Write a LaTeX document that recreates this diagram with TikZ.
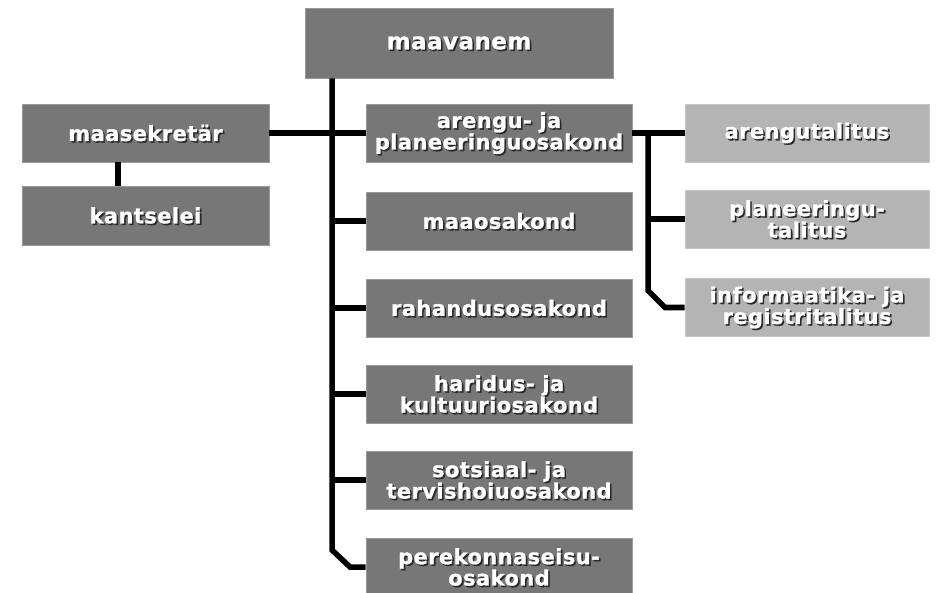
\documentclass[tikz,border=0pt]{standalone}
\usepackage{fontspec}
\setmainfont{DejaVu Sans}[LetterSpace=2, BoldFeatures={FakeBold=1.2}]
\definecolor{darkbox}{HTML}{777777}
\definecolor{lightbox}{HTML}{B4B4B4}
\definecolor{shadowc}{HTML}{2A2A2A}
\tikzset{
  dbox/.style={rectangle, fill=darkbox, draw=darkbox!75!white, line width=0.8pt, inner sep=0pt, minimum height=58pt},
  lbox/.style={rectangle, fill=lightbox, draw=lightbox!75!white, line width=0.8pt, inner sep=0pt, minimum height=58pt},
  txt/.style={align=center, text=white, inner sep=0pt, font=\bfseries\fontsize{21}{18}\selectfont},
  bigtxt/.style={font=\bfseries\fontsize{23}{20}\selectfont},
  shd/.style={txt, text=shadowc},
  conn/.style={draw=black, line width=5.5pt, line join=miter}
}
\newcommand\boxlabel[3][]{%
  \node[shd,#1] (#2-s) at ([xshift=1.6pt,yshift=-1.6pt]#2.center) {#3};
  \node[txt,#1] (#2-t) at (#2.center) {#3};}
\begin{document}
\begin{tikzpicture}[x=1pt,y=-1pt]
\useasboundingbox (0,0) rectangle (936,593);
\fill[white] (0,0) rectangle (936,593);
% boxes
\node[dbox, minimum width=308pt, minimum height=70pt] (top) at (459,43) {};
\node[dbox, minimum width=247pt] (msek) at (145.5,133) {};
\node[dbox, minimum width=247pt, minimum height=59pt] (kants) at (145.5,215.5) {};
\node[dbox, minimum width=266pt] (dep1) at (499,133) {};
\node[dbox, minimum width=266pt] (dep2) at (499,221) {};
\node[dbox, minimum width=266pt] (dep3) at (499,308) {};
\node[dbox, minimum width=266pt] (dep4) at (499,394) {};
\node[dbox, minimum width=266pt] (dep5) at (499,480) {};
\node[dbox, minimum width=266pt] (dep6) at (499,567) {};
\node[lbox, minimum width=244pt] (r1) at (807,133) {};
\node[lbox, minimum width=244pt] (r2) at (807,219) {};
\node[lbox, minimum width=244pt] (r3) at (807,307.5) {};
% helper coordinates
\coordinate (tx) at (332,0);
\coordinate (kx) at (118,0);
\coordinate (rx) at (648,0);
% connectors
\draw[conn] (top.south -| tx) -- ([yshift=17pt]tx |- dep6.west) -- ([xshift=18pt]tx |- dep6.west) -- (dep6.west);
\foreach \d in {dep2,dep3,dep4,dep5} \draw[conn] (tx |- \d.west) -- (\d.west);
\draw[conn] (msek.east) -- (dep1.west);
\draw[conn] (msek.south -| kx) -- (kants.north -| kx);
\draw[conn] (dep1.east) -- (r1.west);
\draw[conn] (rx |- dep1.east) -- ([yshift=17pt]rx |- r3.west) -- ([xshift=17pt]rx |- r3.west) -- (r3.west);
\draw[conn] (rx |- r2.west) -- (r2.west);
% labels
\boxlabel[bigtxt]{top}{maavanem}
\boxlabel{msek}{maasekretär}
\boxlabel{kants}{kantselei}
\boxlabel{dep1}{arengu- ja\\planeeringuosakond}
\boxlabel{dep2}{maaosakond}
\boxlabel{dep3}{rahandusosakond}
\boxlabel{dep4}{haridus- ja\\kultuuriosakond}
\boxlabel{dep5}{sotsiaal- ja\\tervishoiuosakond}
\boxlabel{dep6}{perekonnaseisu-\\osakond}
\boxlabel{r1}{arengutalitus}
\boxlabel{r2}{planeeringu-\\talitus}
\boxlabel{r3}{informaatika- ja\\registritalitus}
\end{tikzpicture}
\end{document}
